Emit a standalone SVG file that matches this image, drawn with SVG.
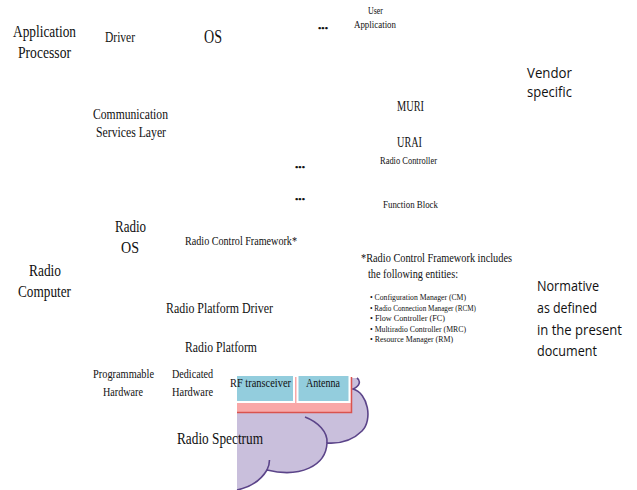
<svg xmlns="http://www.w3.org/2000/svg" width="637" height="490" viewBox="0 0 637 490">
<style>
text{font-family:"Liberation Serif","Times New Roman",serif;fill:#111;}
.sans{font-family:"Open Sans","Noto Sans","Liberation Sans",sans-serif;font-size:15px;}
.dots{font-size:8px;font-weight:bold;}
.cloudfill{fill:#c9bfdc;stroke:none;}
.cloudline{fill:none;stroke:#5b4489;stroke-width:1.6;}
.blue{fill:#93cddd;stroke:#ffffff;stroke-width:2;}
</style>
<rect width="637" height="490" fill="#ffffff"/>
<g id="radio-spectrum-cloud">
<path class="cloudfill" d="M237 378 L357 378 C361 381 360 386 353 389 C368 393 373 420 362 431 C354 439 342 444 327 443 C326 466 300 478 267 470 C261 480 251 487 237 490 Z"/>
<path class="cloudline" d="M357 378 C361 381 360 386 353 389 C368 393 373 420 362 431 C354 439 342 444 327 443 C326 466 300 478 267 470 C261 480 251 487 237 490"/>
<path class="cloudline" d="M305 417 C318 422 328 432 327 443"/>
<path class="cloudline" d="M269.5 460 C269.5 464 268.5 467 267 470"/>
</g>
<g id="radio-platform-box">
<rect x="237" y="377" width="114.5" height="35.5" fill="#f9a8a8"/>
<path d="M351.5 377 L351.5 412.5 L237 412.5" fill="none" stroke="#d9534f" stroke-width="1.5"/>
</g>
<g id="rf-transceiver">
<rect class="blue" x="236" y="375" width="58" height="27"/>
</g>
<g id="antenna">
<rect class="blue" x="297.5" y="375" width="52" height="27"/>
</g>
<g id="connectors"></g>
<g id="application-processor">
<text x="13" y="37" font-size="17" textLength="63" lengthAdjust="spacingAndGlyphs">Application</text>
<text x="18" y="58" font-size="17" textLength="53" lengthAdjust="spacingAndGlyphs">Processor</text>
</g>
<g id="driver"><text x="105" y="42" font-size="15.5" textLength="30" lengthAdjust="spacingAndGlyphs">Driver</text></g>
<g id="os"><text x="204" y="43" font-size="18" textLength="18" lengthAdjust="spacingAndGlyphs">OS</text></g>
<g id="dots-top"><text class="dots" x="318" y="30.5" textLength="10" lengthAdjust="spacingAndGlyphs">•••</text></g>
<g id="user-application">
<text x="368" y="14" font-size="11" textLength="15" lengthAdjust="spacingAndGlyphs">User</text>
<text x="354" y="28" font-size="11" textLength="42" lengthAdjust="spacingAndGlyphs">Application</text>
</g>
<g id="vendor-specific">
<text class="sans" x="527" y="78" textLength="45" lengthAdjust="spacingAndGlyphs">Vendor</text>
<text class="sans" x="527" y="97" textLength="45" lengthAdjust="spacingAndGlyphs">specific</text>
</g>
<g id="communication-services-layer">
<text x="93" y="119" font-size="15.5" textLength="75" lengthAdjust="spacingAndGlyphs">Communication</text>
<text x="96" y="137" font-size="15.5" textLength="70" lengthAdjust="spacingAndGlyphs">Services Layer</text>
</g>
<g id="muri"><text x="397" y="111" font-size="14" textLength="27" lengthAdjust="spacingAndGlyphs">MURI</text></g>
<g id="urai"><text x="397" y="146.5" font-size="14" textLength="25" lengthAdjust="spacingAndGlyphs">URAI</text></g>
<g id="radio-controller"><text x="380" y="164" font-size="11" textLength="57" lengthAdjust="spacingAndGlyphs">Radio Controller</text></g>
<g id="dots-rc"><text class="dots" x="295" y="169.5" textLength="10" lengthAdjust="spacingAndGlyphs">•••</text></g>
<g id="dots-fb"><text class="dots" x="295" y="202" textLength="10" lengthAdjust="spacingAndGlyphs">•••</text></g>
<g id="function-block"><text x="383" y="208" font-size="11" textLength="55" lengthAdjust="spacingAndGlyphs">Function Block</text></g>
<g id="radio-os">
<text x="115" y="232" font-size="17" textLength="31" lengthAdjust="spacingAndGlyphs">Radio</text>
<text x="121" y="253" font-size="17" textLength="18" lengthAdjust="spacingAndGlyphs">OS</text>
</g>
<g id="radio-control-framework"><text x="185" y="244.5" font-size="13.5" textLength="112" lengthAdjust="spacingAndGlyphs">Radio Control Framework*</text></g>
<g id="rcf-note">
<text x="361" y="262" font-size="13" textLength="151" lengthAdjust="spacingAndGlyphs">*Radio Control Framework includes</text>
<text x="368" y="278" font-size="13" textLength="90" lengthAdjust="spacingAndGlyphs">the following entities:</text>
<text x="370" y="300" font-size="9" textLength="96" lengthAdjust="spacingAndGlyphs">• Configuration Manager (CM)</text>
<text x="370" y="310.5" font-size="9" textLength="106" lengthAdjust="spacingAndGlyphs">• Radio Connection Manager (RCM)</text>
<text x="370" y="321" font-size="9" textLength="75" lengthAdjust="spacingAndGlyphs">• Flow Controller (FC)</text>
<text x="370" y="331.5" font-size="9" textLength="96" lengthAdjust="spacingAndGlyphs">• Multiradio Controller (MRC)</text>
<text x="370" y="342" font-size="9" textLength="83" lengthAdjust="spacingAndGlyphs">• Resource Manager (RM)</text>
</g>
<g id="radio-computer">
<text x="29" y="276" font-size="17.5" textLength="32" lengthAdjust="spacingAndGlyphs">Radio</text>
<text x="18" y="297" font-size="17.5" textLength="53" lengthAdjust="spacingAndGlyphs">Computer</text>
</g>
<g id="radio-platform-driver"><text x="166" y="313" font-size="15.5" textLength="107" lengthAdjust="spacingAndGlyphs">Radio Platform Driver</text></g>
<g id="normative">
<text class="sans" x="537" y="291" textLength="62" lengthAdjust="spacingAndGlyphs">Normative</text>
<text class="sans" x="537" y="313" textLength="60" lengthAdjust="spacingAndGlyphs">as defined</text>
<text class="sans" x="537" y="334.5" textLength="85" lengthAdjust="spacingAndGlyphs">in the present</text>
<text class="sans" x="537" y="356" textLength="60" lengthAdjust="spacingAndGlyphs">document</text>
</g>
<g id="radio-platform"><text x="185" y="352" font-size="15.5" textLength="72" lengthAdjust="spacingAndGlyphs">Radio Platform</text></g>
<g id="programmable-hardware">
<text x="93" y="378" font-size="13" textLength="61" lengthAdjust="spacingAndGlyphs">Programmable</text>
<text x="103" y="395.5" font-size="13" textLength="40" lengthAdjust="spacingAndGlyphs">Hardware</text>
</g>
<g id="dedicated-hardware">
<text x="172" y="378" font-size="13" textLength="41" lengthAdjust="spacingAndGlyphs">Dedicated</text>
<text x="172" y="395.5" font-size="13" textLength="41" lengthAdjust="spacingAndGlyphs">Hardware</text>
</g>
<g id="rf-transceiver-label"><text x="230" y="387" font-size="13" textLength="61" lengthAdjust="spacingAndGlyphs">RF transceiver</text></g>
<g id="antenna-label"><text x="306" y="387" font-size="13" textLength="34" lengthAdjust="spacingAndGlyphs">Antenna</text></g>
<g id="radio-spectrum"><text x="177" y="443.5" font-size="17.5" textLength="86" lengthAdjust="spacingAndGlyphs">Radio Spectrum</text></g>
</svg>
